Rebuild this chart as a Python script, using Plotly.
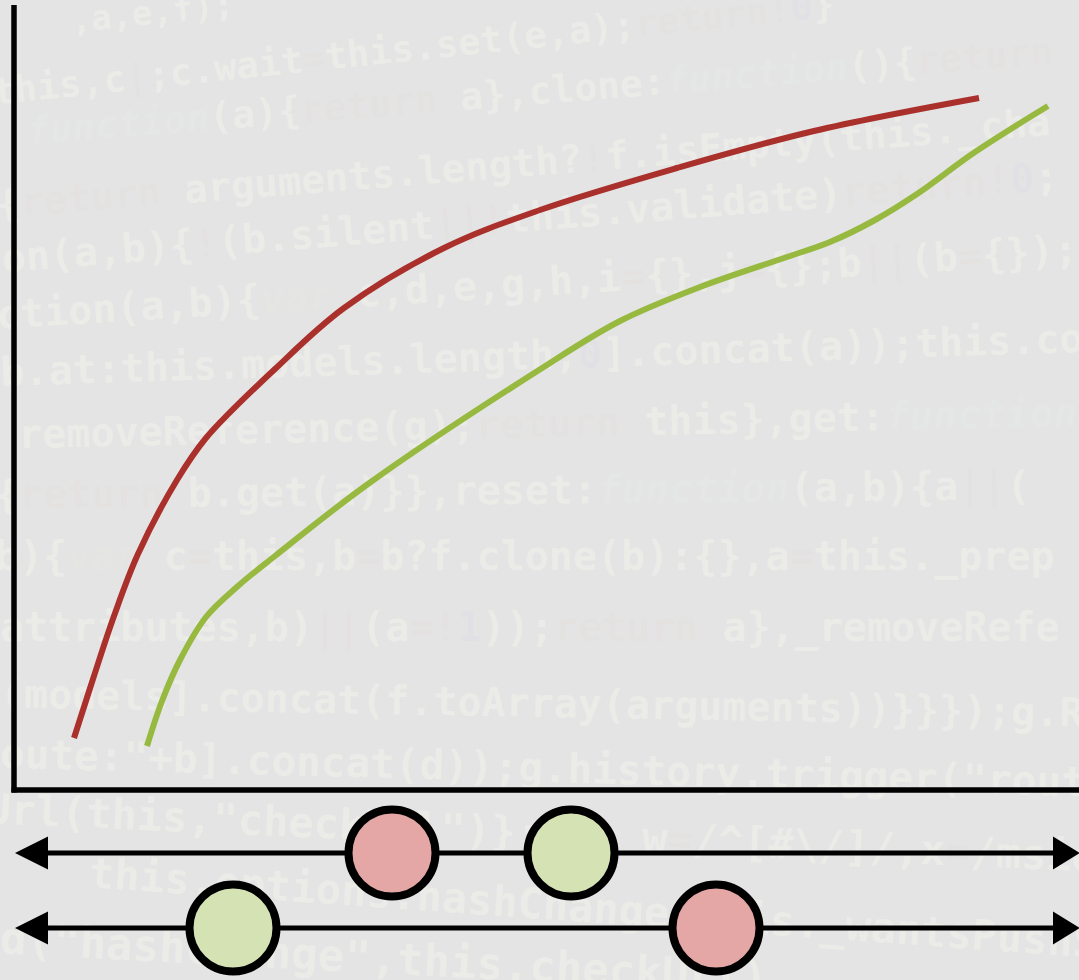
import re
import plotly.graph_objects as go

# ---------------- data ----------------
# curve values (x, y in chart units, origin at the axes corner)
red_x = [0.60, 0.79, 1.00, 1.24, 1.63, 1.92, 2.61, 3.30, 4.30, 5.26, 6.63, 8.00, 9.65]
red_y = [0.52, 1.11, 1.74, 2.36, 3.10, 3.52, 4.21, 4.82, 5.42, 5.80, 6.22, 6.59, 6.92]

green_x = [1.33, 1.48, 1.66, 1.92, 2.24, 2.61, 3.54, 5.25, 6.06, 6.86, 7.73, 8.16, 8.61, 9.03, 9.61, 10.34]
green_y = [0.44, 0.89, 1.30, 1.73, 2.04, 2.34, 3.06, 4.20, 4.69, 5.03, 5.33, 5.48, 5.70, 5.96, 6.38, 6.84]

# timeline rows (below the chart) and dot positions on them
timeline_rows = [-0.63, -1.38]
red_dots_x = [3.78, 7.02]
green_dots_x = [5.57, 2.19]

# faint background code lines
code_lines = [
    ",a,e,f);",
    "this,c|;c.wait=this.set(e,a);return!0}",
    "function(a){return a},clone:function(){return",
    "{return arguments.length?!f.isEmpty(this._cha",
    "on(a,b){!(b.silent||!this.validate)return!0;",
    "ction(a,b){var c,d,e,g,h,i={},j={};b||(b={});",
    "b.at:this.models.length,0].concat(a));this.co",
    "removeReference(g);return this},get:function(",
    "{return b.get(a)}},reset:function(a,b){a||(",
    "b){var c=this,b=b?f.clone(b):{},a=this._prep",
    "attributes,b)||(a=!1));return a},_removeRefe",
    "(models].concat(f.toArray(arguments))}}});g.R",
    "oute:\"+b].concat(d));g.history.trigger(\"rout",
    "Url(this,\"checkUrl\")};var w=/^[#\\/]/,x=/msie",
    "this.options.hashChange:this._wantsPushS",
    "d(\"hashchange\",this.checkUrl)",
]
# placement of each code line: (left px, centre y px, angle, font size)
code_place = [
    (70, 10, -6, 34),
    (-10, 45, -6, 37),
    (25, 88, -4.5, 38),
    (-5, 160, -4.5, 39),
    (0, 215, -4.5, 40),
    (-5, 280, -3.5, 40),
    (0, 352, -1.8, 40),
    (18, 420, -1.2, 40),
    (-5, 488, -0.5, 40),
    (-5, 553, 0, 40),
    (0, 625, 0, 40),
    (0, 700, 1, 40),
    (0, 765, 1.5, 41),
    (-15, 830, 2.5, 42),
    (88, 905, 4, 42),
    (0, 955, 3, 44),
]

# ---------------- styling ----------------
W, H = 1079, 980
OX, OY = 14, 790          # pixel position of chart origin
PXU = 100.0               # pixels per unit
BG = "#e4e4e4"
RED = "#aa302c"
GREEN = "#97b940"
RED_FILL = "#e4a7a6"
GREEN_FILL = "#d4e2b4"

TXT = "rgba(255,255,245,0.30)"
KW_RED = "rgba(255,140,140,0.14)"
FN_CYAN = "rgba(235,255,245,0.40)"
VAR_GREEN = "rgba(240,255,225,0.34)"
NUM_PURPLE = "rgba(190,190,255,0.25)"


def px_to_x(px):
    return (px - OX) / PXU


def py_to_y(py):
    return (OY - py) / PXU


def colorize(s):
    parts = re.split(r"(function|return|var|[=|!]+|\d+)", s)
    out = []
    for p in parts:
        if not p:
            continue
        if p == "function":
            out.append(f"<span style='color:{FN_CYAN}'><i>{p}</i></span>")
        elif p == "var":
            out.append(f"<span style='color:{VAR_GREEN}'><i>{p}</i></span>")
        elif p == "return" or re.fullmatch(r"[=|!]+", p):
            out.append(f"<span style='color:{KW_RED}'>{p}</span>")
        elif p.isdigit():
            out.append(f"<span style='color:{NUM_PURPLE}'>{p}</span>")
        else:
            out.append(p)
    return "".join(out)


fig = go.Figure()

shapes = []
# background code as shape labels (drawn below traces)
for txt, (x0, yc, ang, fs) in zip(code_lines, code_place):
    cx = x0 + len(txt) * 0.602 * fs / 2.0
    X, Y = px_to_x(cx), py_to_y(yc)
    shapes.append(dict(
        type="line", xref="x", yref="y",
        x0=X - 0.01, x1=X + 0.01, y0=Y, y1=Y,
        line=dict(width=0, color="rgba(0,0,0,0)"),
        layer="below",
        label=dict(text=colorize(txt), textangle=ang, textposition="middle",
                   xanchor="center", yanchor="middle", padding=0,
                   font=dict(family="DejaVu Sans Mono", size=fs, color=TXT,
                             weight="bold")),
    ))

xmin, xmax = px_to_x(0), px_to_x(W)
ymin, ymax = py_to_y(H), py_to_y(0)

# axes lines
shapes.append(dict(type="line", xref="x", yref="y", x0=0, x1=0, y0=-0.025, y1=py_to_y(5),
                   line=dict(color="black", width=5.5), layer="above"))
shapes.append(dict(type="line", xref="x", yref="y", x0=-0.025, x1=xmax + 0.1, y0=0, y1=0,
                   line=dict(color="black", width=5.5), layer="above"))

# timeline arrows
tip_l, base_l = px_to_x(15), px_to_x(48)
tip_r, base_r = px_to_x(1080), px_to_x(1053)
hh = 0.165
for ry in timeline_rows:
    shapes.append(dict(type="line", xref="x", yref="y", x0=base_l - 0.03, x1=base_r + 0.03,
                       y0=ry, y1=ry, line=dict(color="black", width=5), layer="below"))
    shapes.append(dict(type="path", xref="x", yref="y",
                       path=f"M {tip_l},{ry} L {base_l},{ry + hh} L {base_l},{ry - hh} Z",
                       fillcolor="black", line=dict(width=0), layer="below"))
    shapes.append(dict(type="path", xref="x", yref="y",
                       path=f"M {tip_r},{ry} L {base_r},{ry + hh} L {base_r},{ry - hh} Z",
                       fillcolor="black", line=dict(width=0), layer="below"))

fig.add_trace(go.Scatter(x=red_x, y=red_y, mode="lines",
                         line=dict(color=RED, width=6, shape="spline", smoothing=1.0),
                         hoverinfo="skip"))
fig.add_trace(go.Scatter(x=green_x, y=green_y, mode="lines",
                         line=dict(color=GREEN, width=6, shape="spline", smoothing=1.0),
                         hoverinfo="skip"))

fig.add_trace(go.Scatter(x=red_dots_x, y=timeline_rows, mode="markers",
                         marker=dict(size=87, color=RED_FILL, line=dict(color="black", width=8)),
                         hoverinfo="skip"))
fig.add_trace(go.Scatter(x=green_dots_x, y=timeline_rows, mode="markers",
                         marker=dict(size=87, color=GREEN_FILL, line=dict(color="black", width=8)),
                         hoverinfo="skip"))

fig.update_layout(
    width=W, height=H,
    margin=dict(l=0, r=0, t=0, b=0),
    paper_bgcolor=BG, plot_bgcolor=BG,
    showlegend=False,
    xaxis=dict(range=[xmin, xmax], visible=False, fixedrange=True),
    yaxis=dict(range=[ymin, ymax], visible=False, fixedrange=True),
    shapes=shapes,
)

fig.write_html(
    "out.html",
    config={"displayModeBar": False},
    post_script="document.body.style.margin='0px';document.body.style.background='#e4e4e4';",
)
